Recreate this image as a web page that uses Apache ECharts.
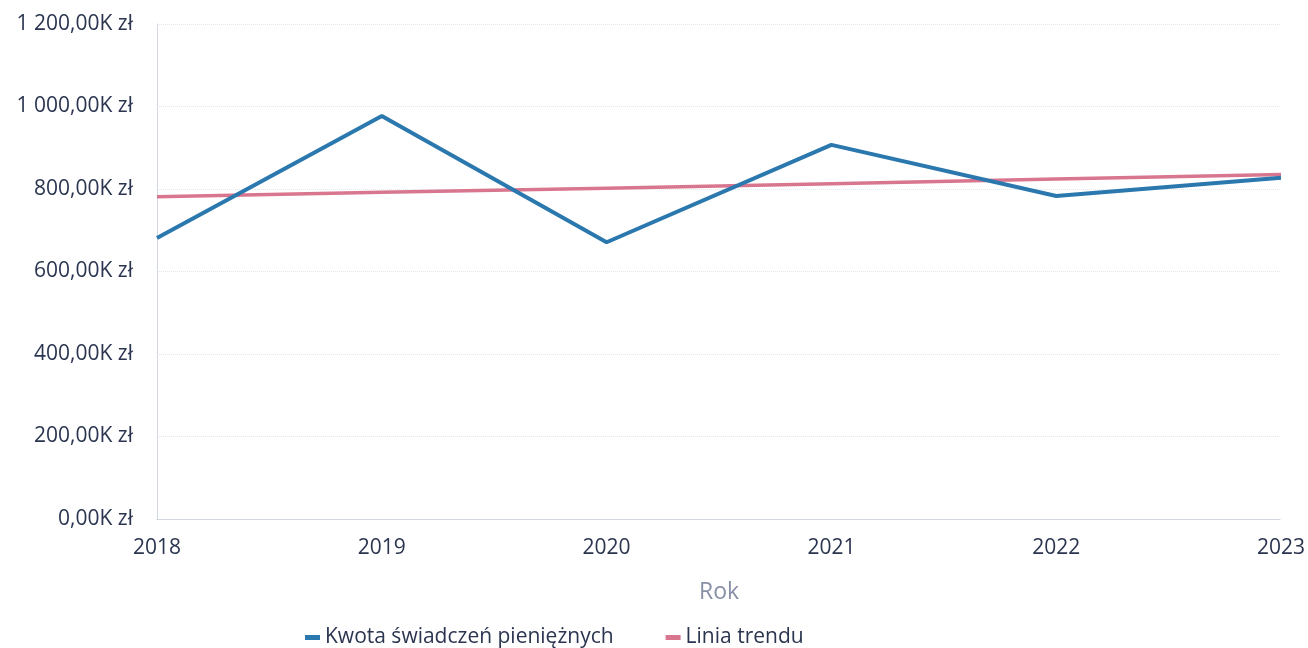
<!DOCTYPE html>
<html><head><meta charset="utf-8">
<script src="https://cdn.jsdelivr.net/npm/echarts@6/dist/echarts.min.js"></script>
<style>html,body{margin:0;padding:0;background:#fff}#c{width:1308px;height:648px}</style>
</head><body><div id="c"></div>
<script>
const years = ['2018','2019','2020','2021','2022','2023'];
const kwota = [681, 977, 671, 907, 783, 827];
const trend = [781, 792, 802, 813, 824, 835];
const yTicks = [0, 200, 400, 600, 800, 1000, 1200];

function fmt(v){
  const s = String(Math.round(v));
  const grp = s.replace(/\B(?=(\d{3})+(?!\d))/g, ' ');
  return grp + ',00K zł';
}

const chart = echarts.init(document.getElementById('c'));
chart.setOption({
  backgroundColor:'#ffffff',
  animation:false,
  grid:{left:157, right:25, top:24, bottom:129},
  xAxis:{
    type:'category', data:years, boundaryGap:false,
    name:'Rok', nameLocation:'middle', nameGap:62,
    nameTextStyle:{color:'#8790a6', fontSize:23, fontFamily:'Open Sans'},
    axisLine:{show:true, lineStyle:{color:'#c9cfdb', type:'dotted', width:1}},
    axisTick:{show:false},
    axisLabel:{color:'#2b3550', fontSize:21, fontFamily:'Open Sans', margin:19,
      alignMinLabel:'center', alignMaxLabel:'center'},
    splitLine:{show:false}
  },
  yAxis:{
    type:'value', min:yTicks[0], max:yTicks[yTicks.length-1], interval:200,
    axisLine:{show:true, lineStyle:{color:'#c9cfdb', type:'dotted', width:1}},
    axisTick:{show:false},
    axisLabel:{color:'#2b3550', fontSize:21, fontFamily:'Open Sans', margin:24,
      formatter: v => fmt(v)},
    splitLine:{show:true, lineStyle:{color:'#e3e7ee', type:'dotted', width:1}}
  },
  legend:{
    left:300, bottom:-5, icon:'rect', itemWidth:15, itemHeight:5, itemGap:52,
    textStyle:{color:'#2b3550', fontSize:21, fontFamily:'Open Sans'},
    data:['Kwota świadczeń pieniężnych','Linia trendu']
  },
  series:[
    {name:'Linia trendu', type:'line', data:trend, symbol:'none',
      lineStyle:{color:'#d9768f', width:3.5}, itemStyle:{color:'#d9768f'}, z:2},
    {name:'Kwota świadczeń pieniężnych', type:'line', data:kwota, symbol:'none',
      lineStyle:{color:'#2a78ad', width:4}, itemStyle:{color:'#2a78ad'}, z:3}
  ]
});
</script></body></html>
